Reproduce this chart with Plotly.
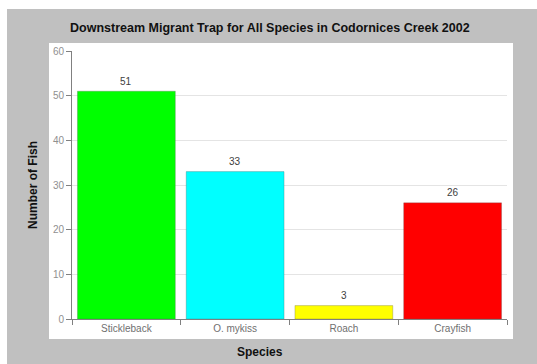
import plotly.graph_objects as go

species = ["Stickleback", "O. mykiss", "Roach", "Crayfish"]
counts = [51, 33, 3, 26]
bar_colors = ["#00ff00", "#00ffff", "#ffff00", "#ff0000"]
y_ticks = [0, 10, 20, 30, 40, 50, 60]

W, H = 537, 364
L, R, T, B = 72, 30, 51, 45
pw, ph = W - L - R, H - T - B


def px(x):
    return (x - L) / pw


def py(y):
    return (H - B - y) / ph


fig = go.Figure(
    go.Bar(
        x=species,
        y=counts,
        marker=dict(color=bar_colors, line=dict(color="rgba(90,90,90,0.5)", width=0.6)),
        width=0.9,
    )
)

for s, c in zip(species, counts):
    fig.add_annotation(
        x=s, y=c, text=str(c), showarrow=False, yshift=10,
        font=dict(family="Arial, Liberation Sans", size=10, color="#404040"),
    )

# grey frame and white panel behind the plot
fig.add_shape(type="rect", xref="paper", yref="paper", x0=px(7), x1=px(537), y0=py(364), y1=py(9),
              fillcolor="#c0c0c0", line=dict(width=0), layer="below")
fig.add_shape(type="rect", xref="paper", yref="paper", x0=px(49), x1=px(513), y0=py(339), y1=py(43),
              fillcolor="white", line=dict(width=0), layer="below")

title_font = dict(family="Arial, Liberation Sans", size=12, color="#111111")
fig.add_annotation(xref="paper", yref="paper", x=px(270), y=py(28), xanchor="center", yanchor="middle",
                   text="<b>Downstream Migrant Trap for All Species in Codornices Creek 2002</b>",
                   showarrow=False, font=dict(title_font, size=12.5))
fig.add_annotation(xref="paper", yref="paper", x=px(33), y=py(185), xanchor="center", yanchor="middle",
                   text="<b>Number of Fish</b>", textangle=-90, showarrow=False, font=title_font)
fig.add_annotation(xref="paper", yref="paper", x=px(260), y=py(352), xanchor="center", yanchor="middle",
                   text="<b>Species</b>", showarrow=False, font=title_font)

fig.update_layout(
    width=W, height=H,
    margin=dict(l=L, r=R, t=T, b=B),
    paper_bgcolor="white",
    plot_bgcolor="rgba(0,0,0,0)",
    showlegend=False,
    bargap=0.1,
    font=dict(family="Arial, Liberation Sans", size=10, color="#707070"),
)
fig.update_xaxes(
    range=[-0.5, 3.5], showline=True, linecolor="#808080", linewidth=1,
    ticks="outside", tickson="boundaries", ticklen=5, tickcolor="#808080",
    showgrid=False, tickfont=dict(size=10, color="#707070"), fixedrange=True,
)
fig.update_yaxes(
    range=[0, 60], tickvals=y_ticks, showline=True, linecolor="#808080", linewidth=1,
    ticks="outside", ticklen=5, tickcolor="#808080",
    showgrid=True, gridcolor="#e4e4e4", gridwidth=1, zeroline=False,
    tickfont=dict(size=10, color="#909090"), fixedrange=True,
)

fig.write_html("out.html")
